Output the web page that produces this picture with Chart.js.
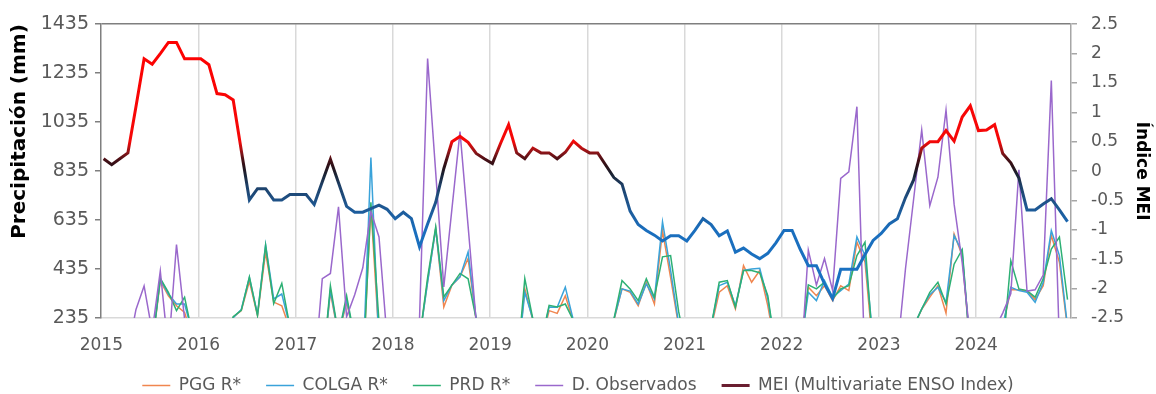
<!DOCTYPE html>
<html>
<head>
<meta charset="utf-8">
<script src="https://cdn.jsdelivr.net/npm/chart.js@4.4.1/dist/chart.umd.min.js"></script>
<style>
  html, body { margin: 0; padding: 0; background: #fff; }
  #wrap { width: 1156px; height: 394px; }
</style>
</head>
<body>
<div id="wrap"><canvas id="ensoChart" width="1156" height="394"></canvas></div>
<script>
// monthly series, Jan 2015 - Dec 2024
var years = [2015, 2016, 2017, 2018, 2019, 2020, 2021, 2022, 2023, 2024];
var precipTicks = [235, 435, 635, 835, 1035, 1235, 1435];
var meiTicks = [-2.5, -2, -1.5, -1, -0.5, 0, 0.5, 1, 1.5, 2, 2.5];

var pggR = [
    60, 40, 50, 80, 90, 100, 120, 387, 326, 285, 258, 150,
    80, 50, 60, 120, 238, 265, 385, 245, 504, 300, 285, 190,
    60, 40, 30, 20, 340, 160, 300, 150, 20, 690, 150, 60,
    40, 30, 60, 150, 385, 600, 280, 369, 403, 478, 225, 80,
    40, 30, 50, 20, 354, 225, 130, 265, 254, 326, 220, 80,
    40, 30, 60, 225, 354, 340, 285, 381, 292, 592, 400, 200,
    60, 30, 50, 195, 340, 367, 272, 449, 381, 429, 285, 100,
    40, 30, 96, 361, 326, 367, 306, 367, 347, 545, 463, 100,
    40, 30, 50, 60, 200, 270, 320, 367, 255, 578, 490, 100,
    40, 30, 60, 200, 350, 350, 345, 310, 367, 572, 463, 190
];
var colgaR = [
    60, 40, 50, 80, 90, 100, 125, 395, 333, 292, 292, 170,
    80, 50, 60, 120, 236, 270, 400, 250, 534, 313, 333, 200,
    60, 40, 30, 20, 350, 165, 310, 150, 20, 890, 120, 60,
    40, 30, 60, 150, 380, 600, 306, 370, 403, 505, 230, 80,
    40, 30, 50, 20, 340, 230, 130, 280, 279, 361, 225, 80,
    40, 30, 60, 230, 354, 345, 292, 374, 313, 628, 430, 210,
    60, 30, 50, 200, 367, 381, 285, 429, 435, 438, 313, 100,
    40, 30, 96, 340, 306, 388, 320, 347, 374, 566, 490, 145,
    40, 30, 50, 60, 200, 272, 330, 361, 299, 572, 504, 100,
    40, 30, 60, 200, 360, 347, 340, 299, 380, 592, 490, 200
];
var prdR = [
    60, 40, 50, 80, 90, 100, 120, 397, 340, 265, 320, 163,
    80, 50, 60, 120, 240, 266, 403, 246, 531, 294, 376, 200,
    60, 40, 30, 20, 367, 167, 326, 150, 0, 708, 220, 60,
    40, 30, 60, 150, 400, 607, 321, 369, 417, 395, 230, 80,
    40, 30, 50, 20, 396, 230, 133, 287, 280, 292, 225, 80,
    40, 30, 60, 230, 388, 354, 306, 395, 320, 485, 490, 260,
    100, 30, 50, 200, 381, 388, 279, 429, 429, 420, 326, 100,
    40, 30, 96, 370, 354, 381, 313, 354, 367, 490, 545, 100,
    40, 30, 50, 60, 200, 272, 340, 381, 292, 455, 515, 100,
    40, 30, 60, 100, 469, 354, 347, 320, 395, 517, 566, 310
];
var observados = [
    30, 20, 40, 100, 270, 366, 179, 427, 100, 535, 230, 100,
    50, 30, 60, 80, 100, 120, 150, 100, 150, 120, 100, 80,
    40, 30, 0, 396, 417, 689, 240, 330, 440, 670, 566, 150,
    60, 40, 80, 230, 1295, 830, 362, 680, 996, 610, 220, 100,
    60, 40, 30, 50, 80, 60, 40, 60, 80, 100, 60, 40,
    40, 30, 50, 60, 80, 100, 120, 80, 100, 150, 120, 60,
    40, 30, 50, 80, 100, 120, 80, 100, 120, 100, 80, 60,
    40, 30, 0, 512, 369, 478, 348, 805, 832, 1098, 20, 100,
    40, 30, 100, 437, 720, 1003, 694, 810, 1084, 700, 460, 150,
    40, 30, 188, 255, 335, 840, 345, 350, 410, 1205, 127, 60
];
var mei = [
    0.21, 0.11, 0.21, 0.31, 1.10, 1.91, 1.82, 2.00, 2.19, 2.19, 1.91, 1.91,
    1.91, 1.81, 1.32, 1.30, 1.21, 0.35, -0.49, -0.30, -0.30, -0.49, -0.49, -0.40,
    -0.40, -0.40, -0.57, -0.18, 0.20, -0.20, -0.60, -0.70, -0.70, -0.64, -0.58, -0.65,
    -0.81, -0.70, -0.81, -1.29, -0.90, -0.53, 0.04, 0.50, 0.59, 0.49, 0.30, 0.21,
    0.13, 0.47, 0.79, 0.31, 0.21, 0.39, 0.31, 0.31, 0.21, 0.32, 0.51, 0.39,
    0.31, 0.31, 0.10, -0.11, -0.22, -0.68, -0.91, -1.01, -1.09, -1.19, -1.10, -1.10,
    -1.19, -1.01, -0.81, -0.91, -1.10, -1.02, -1.38, -1.31, -1.41, -1.49, -1.40, -1.22,
    -1.01, -1.01, -1.33, -1.61, -1.61, -1.92, -2.17, -1.67, -1.67, -1.67, -1.42, -1.18,
    -1.06, -0.90, -0.81, -0.45, -0.15, 0.39, 0.50, 0.50, 0.69, 0.51, 0.92, 1.11,
    0.69, 0.70, 0.79, 0.30, 0.14, -0.12, -0.66, -0.66, -0.56, -0.47, -0.66, -0.86
];

var yearOffset = -0.28;   // year grid lines sit slightly before the January point
var fontFamily = "'DejaVu Sans', 'Liberation Sans', sans-serif";

function toPoints(arr) {
    return arr.map(function (v, i) { return { x: i, y: v }; });
}

// red above ~0.5, dark near zero, blue below
function meiGradient(context) {
    var chart = context.chart;
    if (!chart.chartArea) return '#1f6fb5';
    var s = chart.scales.y1;
    var top = s.getPixelForValue(2.5);
    var bottom = s.getPixelForValue(-2.5);
    var g = chart.ctx.createLinearGradient(0, top, 0, bottom);
    var stops = [[2.5, '#ff0000'], [0.5, '#f50808'], [0.32, '#8c1519'], [0.2, '#4a1016'],
                 [0.08, '#2a1118'], [-0.05, '#1b2232'], [-0.25, '#1d4068'], [-0.5, '#1f5186'],
                 [-1.0, '#1a6ebd'], [-2.5, '#1a74c6']];
    stops.forEach(function (st) {
        g.addColorStop((s.getPixelForValue(st[0]) - top) / (bottom - top), st[1]);
    });
    return g;
}

var ctx = document.getElementById('ensoChart').getContext('2d');
var ensoChart = new Chart(ctx, {
    type: 'line',
    data: {
        datasets: [
            { label: 'PGG R*', data: toPoints(pggR), borderColor: '#f0864f', borderWidth: 1.5, yAxisID: 'y', order: 4 },
            { label: 'COLGA R*', data: toPoints(colgaR), borderColor: '#3aa3da', borderWidth: 1.5, yAxisID: 'y', order: 3 },
            { label: 'PRD R*', data: toPoints(prdR), borderColor: '#2db074', borderWidth: 1.5, yAxisID: 'y', order: 2 },
            { label: 'D. Observados', data: toPoints(observados), borderColor: '#9a68cc', borderWidth: 1.5, yAxisID: 'y', order: 1 },
            { label: 'MEI (Multivariate ENSO Index)', data: toPoints(mei), borderColor: meiGradient, borderWidth: 3, yAxisID: 'y1', order: 0 }
        ]
    },
    options: {
        responsive: false,
        animation: false,
        devicePixelRatio: 1,
        layout: { padding: { top: 24, left: 0, right: 0, bottom: -10 } },
        elements: {
            point: { radius: 0, hoverRadius: 0 },
            line: { tension: 0 }
        },
        datasets: { line: { clip: 0 } },
        plugins: {
            tooltip: { enabled: false },
            legend: {
                position: 'bottom',
                labels: {
                    usePointStyle: true,
                    pointStyle: 'line',
                    pointStyleWidth: 28,
                    padding: 25,
                    color: '#595959',
                    font: { family: fontFamily, size: 17 },
                    sort: function (a, b) { return a.datasetIndex - b.datasetIndex; },
                    generateLabels: function (chart) {
                        var items = Chart.defaults.plugins.legend.labels.generateLabels(chart);
                        items.forEach(function (it) {
                            if (it.datasetIndex === 4) it.strokeStyle = '#6a1e30';
                        });
                        return items;
                    }
                }
            }
        },
        scales: {
            x: {
                type: 'linear',
                min: -0.32,
                max: 119.43,
                afterBuildTicks: function (scale) {
                    scale.ticks = years.map(function (y, k) { return { value: 12 * k + yearOffset }; });
                },
                afterFit: function (scale) { scale.height = 34; },
                ticks: {
                    autoSkip: false,
                    maxRotation: 0,
                    padding: 17,
                    color: '#595959',
                    font: { family: fontFamily, size: 17 },
                    callback: function (value, index) { return String(years[index]); }
                },
                grid: {
                    drawTicks: false,
                    lineWidth: 1.5,
                    color: function (c) { return c.index === 0 ? 'rgba(0,0,0,0)' : '#d9d9d9'; }
                },
                border: { color: '#d9d9d9', width: 1.5 }
            },
            y: {
                position: 'left',
                min: 235,
                max: 1435,
                afterBuildTicks: function (scale) {
                    scale.ticks = precipTicks.map(function (v) { return { value: v }; });
                },
                afterFit: function (scale) { scale.width = 101; },
                ticks: {
                    padding: 6,
                    color: '#595959',
                    font: { family: fontFamily, size: 19 },
                    callback: function (value) { return String(value); }
                },
                grid: {
                    lineWidth: 1.5,
                    tickLength: 6,
                    tickColor: '#7f7f7f',
                    color: function (c) { return c.tick && c.tick.value === 1435 ? '#7f7f7f' : 'rgba(0,0,0,0)'; }
                },
                border: { color: '#7f7f7f', width: 1.5 },
                title: {
                    display: true,
                    text: 'Precipitación (mm)',
                    align: 'end',
                    color: '#000',
                    font: { family: fontFamily, size: 20, weight: 'bold' },
                    padding: { top: 8, bottom: 0 }
                }
            },
            y1: {
                position: 'right',
                min: -2.5,
                max: 2.5,
                afterBuildTicks: function (scale) {
                    scale.ticks = meiTicks.map(function (v) { return { value: v }; });
                },
                afterFit: function (scale) { scale.width = 85; },
                ticks: {
                    padding: 14,
                    color: '#595959',
                    font: { family: fontFamily, size: 17 },
                    callback: function (value) { return String(value); }
                },
                grid: {
                    drawOnChartArea: false,
                    lineWidth: 1.5,
                    tickLength: 6,
                    tickColor: '#a6a6a6'
                },
                border: { color: '#a6a6a6', width: 1.5 },
                title: {
                    display: true,
                    text: 'Índice MEI',
                    color: '#000',
                    font: { family: fontFamily, size: 17, weight: 'bold' },
                    padding: { top: 4, bottom: 0 }
                }
            }
        }
    }
});
</script>
</body>
</html>
